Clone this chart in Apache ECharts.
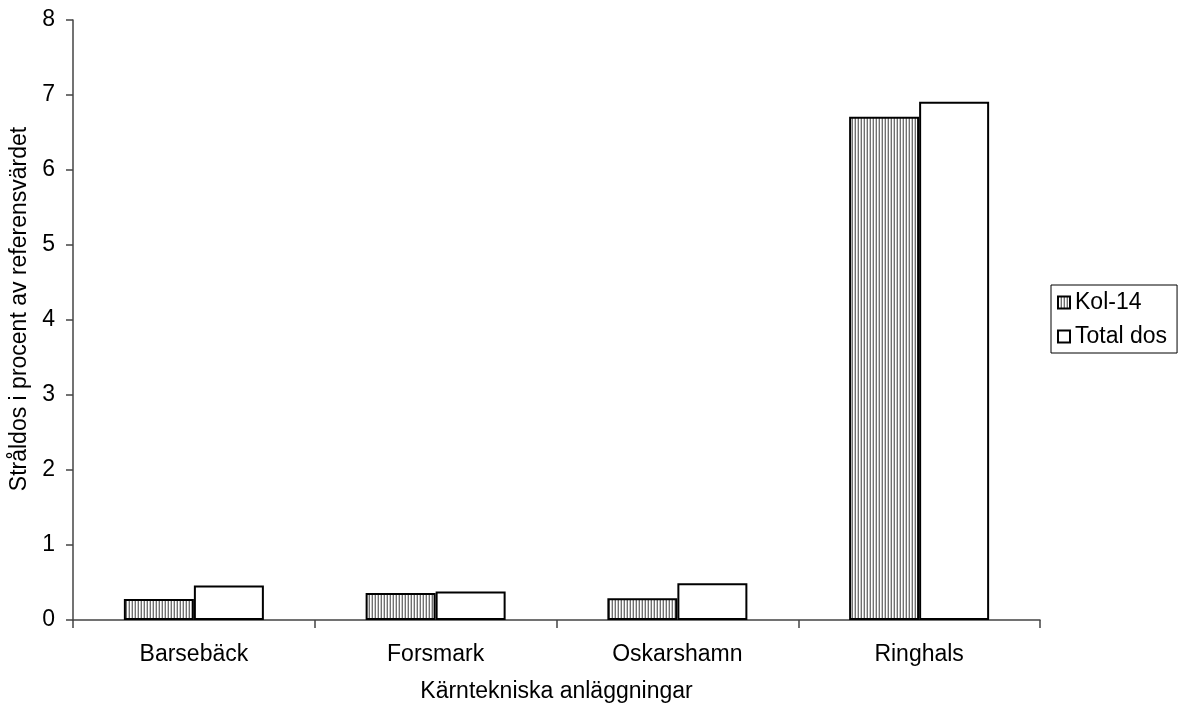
<!DOCTYPE html>
<html><head><meta charset="utf-8">
<script src="https://cdn.jsdelivr.net/npm/echarts@6/dist/echarts.min.js"></script>
<style>html,body{margin:0;padding:0;background:#fff}#c{width:1180px;height:706px}</style>
</head><body><div id="c"></div>
<script>
const categories = ['Barsebäck', 'Forsmark', 'Oskarshamn', 'Ringhals'];
const kol14 = [0.28, 0.36, 0.29, 6.71];
const totalDos = [0.46, 0.38, 0.49, 6.91];
const seriesNames = ['Kol-14', 'Total dos'];
const yTicks = [0, 1, 2, 3, 4, 5, 6, 7, 8];

const pc = document.createElement('canvas');
pc.width = 3; pc.height = 4;
const g = pc.getContext('2d');
g.fillStyle = '#fff'; g.fillRect(0, 0, 3, 4);
g.fillStyle = '#707070'; g.fillRect(0, 0, 1, 4);
g.fillStyle = '#c8c8c8'; g.fillRect(2, 0, 1, 4);

const font = 'Liberation Sans, Arial, sans-serif';
const fs = 23;
const chart = echarts.init(document.getElementById('c'));
chart.setOption({
  animation: false,
  backgroundColor: '#fff',
  grid: { left: 73, right: 140, top: 20, bottom: 86, containLabel: false, outerBoundsMode: 'none' },
  legend: {
    orient: 'vertical', left: 1051, top: 285,
    data: seriesNames,
    borderColor: '#000', borderWidth: 1,
    padding: [6, 10, 5, 6],
    itemWidth: 12, itemHeight: 12, itemGap: 11,
    icon: 'rect',
    textStyle: { fontFamily: font, fontSize: fs, color: '#000' }
  },
  xAxis: {
    type: 'category', data: categories,
    name: 'Kärntekniska anläggningar', nameLocation: 'middle', nameGap: 60, nameMoveOverlap: false,
    nameTextStyle: { fontFamily: font, fontSize: fs, color: '#000' },
    axisLine: { lineStyle: { color: '#444', width: 1.5 } },
    axisTick: { show: true, length: 8, inside: false, alignWithLabel: false, lineStyle: { color: '#444', width: 1.5 } },
    axisLabel: { fontFamily: font, fontSize: fs, color: '#000', margin: 23 },
    splitLine: { show: false }
  },
  yAxis: {
    type: 'value', min: yTicks[0], max: yTicks[yTicks.length - 1], interval: 1,
    name: 'Stråldos i procent av referensvärdet', nameLocation: 'middle', nameGap: 42, nameMoveOverlap: false,
    nameTextStyle: { fontFamily: font, fontSize: fs, color: '#000', padding: [0, 0, 0, 22] },
    axisLine: { show: true, lineStyle: { color: '#444', width: 1.5 } },
    axisTick: { show: true, length: 7, lineStyle: { color: '#444', width: 1.5 } },
    axisLabel: { fontFamily: font, fontSize: fs, color: '#000', margin: 18 },
    splitLine: { show: false }
  },
  series: [
    { name: seriesNames[0], type: 'bar', data: kol14, barWidth: 70, barGap: '0%',
      itemStyle: { color: { image: pc, repeat: 'repeat' }, borderColor: '#000', borderWidth: 2 } },
    { name: seriesNames[1], type: 'bar', data: totalDos, barWidth: 70, barGap: '0%',
      itemStyle: { color: '#fff', borderColor: '#000', borderWidth: 2 } }
  ]
});
</script></body></html>
